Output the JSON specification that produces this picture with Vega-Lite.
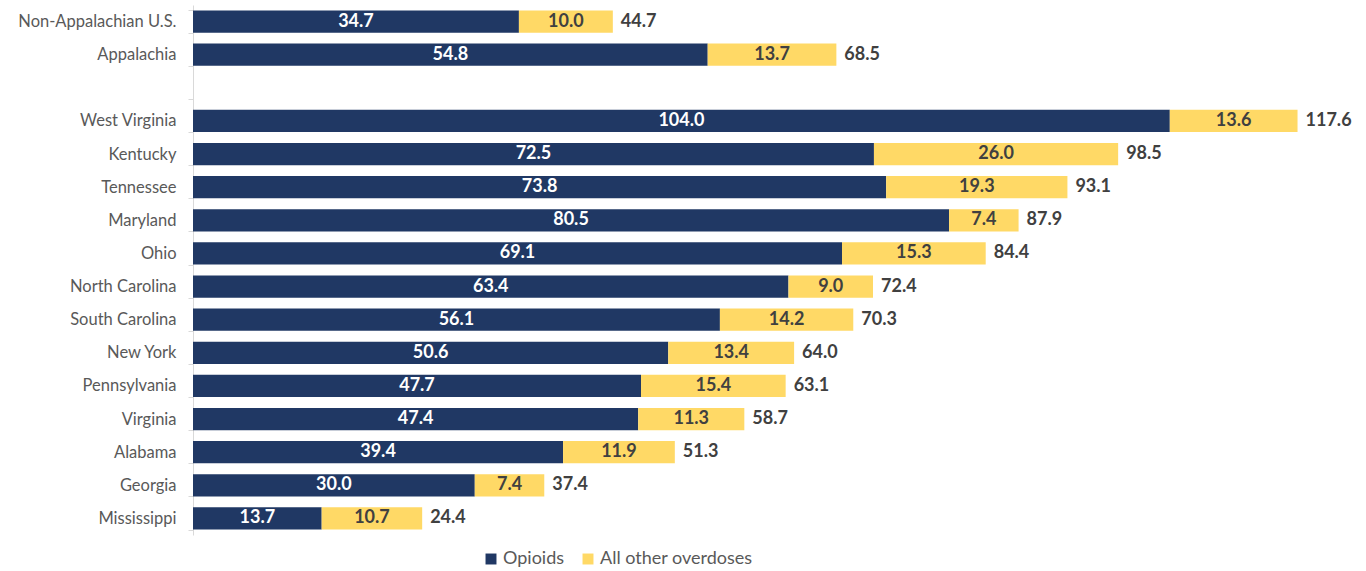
{
  "$schema": "https://vega.github.io/schema/vega-lite/v6.json",
  "width": 1221,
  "height": 530,
  "autosize": {"type": "none"},
  "padding": {"left": 193, "top": 5, "right": 0, "bottom": 36},
  "config": {"font": "Lato", "view": {"stroke": null}},
  "data": {
    "values": [
      {"state": "Non-Appalachian U.S.", "Opioids": 34.7, "Other": 10.0, "total": 44.7},
      {"state": "Appalachia", "Opioids": 54.8, "Other": 13.7, "total": 68.5},
      {"state": "West Virginia", "Opioids": 104.0, "Other": 13.6, "total": 117.6},
      {"state": "Kentucky", "Opioids": 72.5, "Other": 26.0, "total": 98.5},
      {"state": "Tennessee", "Opioids": 73.8, "Other": 19.3, "total": 93.1},
      {"state": "Maryland", "Opioids": 80.5, "Other": 7.4, "total": 87.9},
      {"state": "Ohio", "Opioids": 69.1, "Other": 15.3, "total": 84.4},
      {"state": "North Carolina", "Opioids": 63.4, "Other": 9.0, "total": 72.4},
      {"state": "South Carolina", "Opioids": 56.1, "Other": 14.2, "total": 70.3},
      {"state": "New York", "Opioids": 50.6, "Other": 13.4, "total": 64.0},
      {"state": "Pennsylvania", "Opioids": 47.7, "Other": 15.4, "total": 63.1},
      {"state": "Virginia", "Opioids": 47.4, "Other": 11.3, "total": 58.7},
      {"state": "Alabama", "Opioids": 39.4, "Other": 11.9, "total": 51.3},
      {"state": "Georgia", "Opioids": 30.0, "Other": 7.4, "total": 37.4},
      {"state": "Mississippi", "Opioids": 13.7, "Other": 10.7, "total": 24.4}
    ]
  },
  "encoding": {
    "y": {
      "field": "state",
      "type": "nominal",
      "scale": {
        "domain": ["Non-Appalachian U.S.", "Appalachia", " ", "West Virginia", "Kentucky", "Tennessee", "Maryland", "Ohio", "North Carolina", "South Carolina", "New York", "Pennsylvania", "Virginia", "Alabama", "Georgia", "Mississippi"],
        "paddingInner": 0.33,
        "paddingOuter": 0.165
      },
      "axis": {
        "title": null,
        "labelFontSize": 16.5,
        "labelColor": "#595959",
        "labelFont": "Lato",
        "domainColor": "#d9d9d9",
        "tickColor": "#d9d9d9",
        "tickSize": 5,
        "tickBand": "extent",
        "labelPadding": 12
      }
    }
  },
  "layer": [
    {
      "mark": {"type": "bar"},
      "encoding": {
        "x": {"field": "Opioids", "type": "quantitative", "scale": {"domain": [0, 130], "nice": false, "zero": true}, "axis": null},
        "color": {
          "datum": "Opioids",
          "type": "nominal",
          "scale": {"domain": ["Opioids", "All other overdoses"], "range": ["#203864", "#FFD966"]},
          "legend": {
            "title": null,
            "orient": "none",
            "direction": "horizontal",
            "legendX": 289,
            "legendY": 545,
            "symbolType": "square",
            "symbolSize": 120,
            "symbolStrokeWidth": 0,
            "labelFontSize": 18,
            "labelColor": "#595959",
            "labelFont": "Lato",
            "labelOffset": 3,
            "columnPadding": 14
          }
        }
      }
    },
    {
      "mark": {"type": "bar"},
      "encoding": {
        "x": {"field": "Opioids", "type": "quantitative"},
        "x2": {"field": "total"},
        "color": {"datum": "All other overdoses", "type": "nominal"}
      }
    },
    {
      "mark": {"type": "text", "fontWeight": "bold", "fontSize": 18, "color": "white", "align": "center", "baseline": "middle"},
      "encoding": {
        "x": {"datum": 0, "type": "quantitative"},
        "xOffset": {"field": "Opioids", "type": "quantitative", "scale": {"domain": [0, 130], "range": [0, 610.5], "nice": false, "zero": true}},
        "text": {"field": "Opioids", "type": "quantitative", "format": ".1f"}
      }
    },
    {
      "mark": {"type": "text", "fontWeight": "bold", "fontSize": 18, "color": "#404040", "align": "center", "baseline": "middle", "dx": {"expr": "scale('x', datum.Other) / 2"}},
      "encoding": {
        "x": {"field": "Opioids", "type": "quantitative"},
        "text": {"field": "Other", "type": "quantitative", "format": ".1f"}
      }
    },
    {
      "mark": {"type": "text", "fontWeight": "bold", "fontSize": 18, "color": "#404040", "align": "left", "baseline": "middle", "dx": 8},
      "encoding": {
        "x": {"field": "total", "type": "quantitative"},
        "text": {"field": "total", "type": "quantitative", "format": ".1f"}
      }
    }
  ]
}
